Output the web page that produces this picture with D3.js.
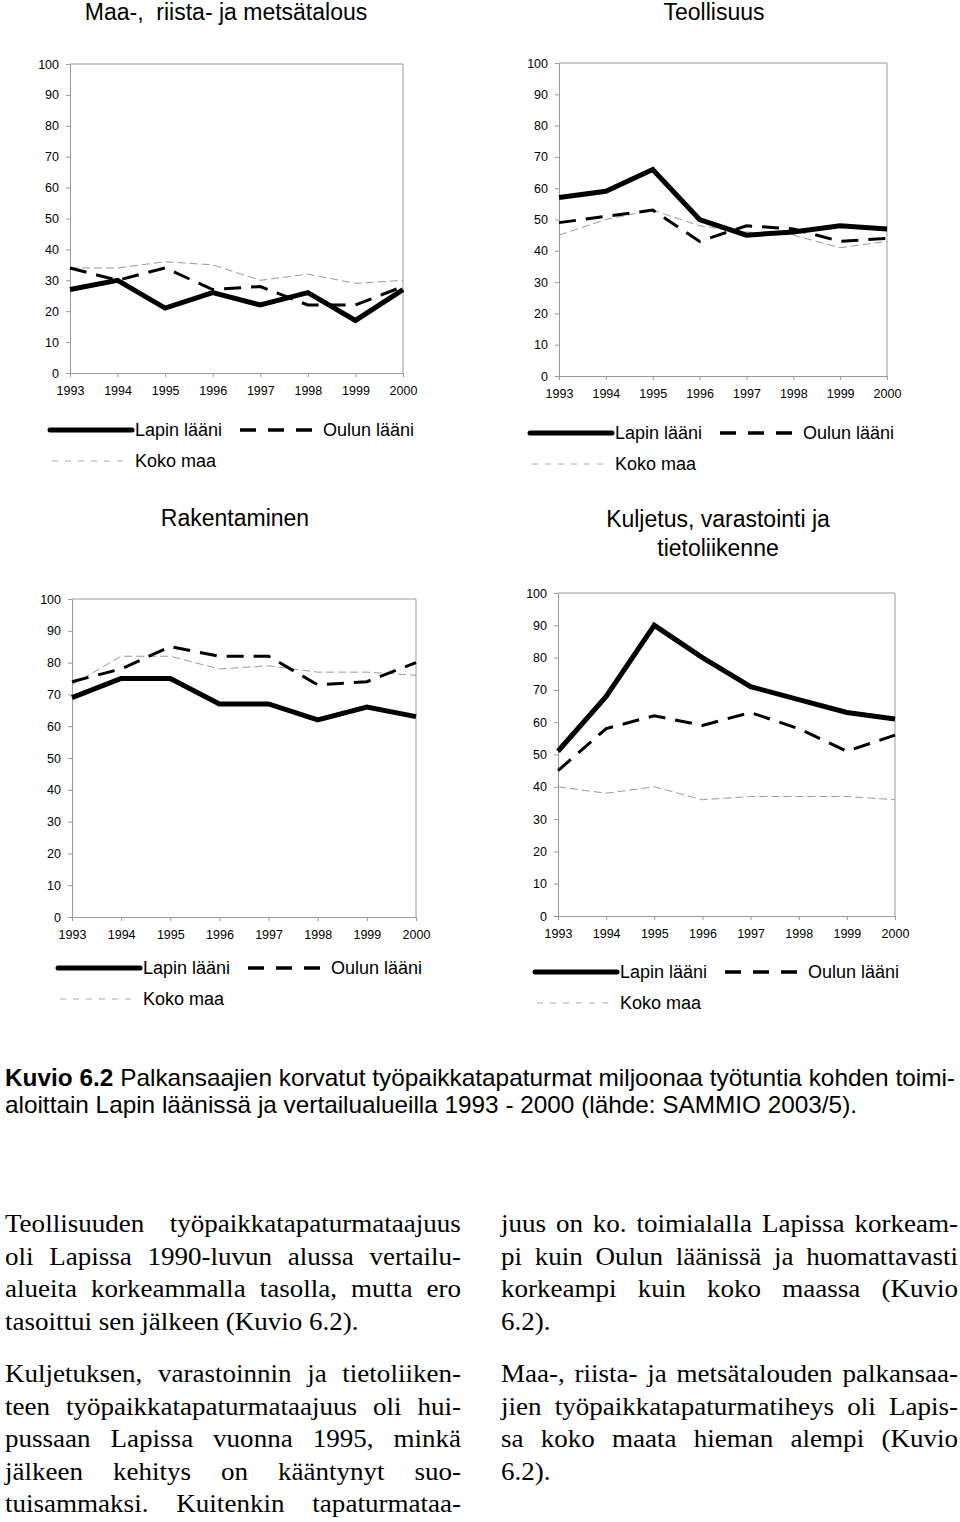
<!DOCTYPE html>
<html><head><meta charset="utf-8">
<script src="https://cdn.jsdelivr.net/npm/d3@7"></script>
<style>body{margin:0;background:#fff} svg{display:block}</style>
</head><body><svg id="c" width="960" height="1522"></svg>
<script>
// ---- data ----
const years = [1993, 1994, 1995, 1996, 1997, 1998, 1999, 2000];
const yTicks = [0, 10, 20, 30, 40, 50, 60, 70, 80, 90, 100];
const seriesNames = ["Lapin lääni", "Oulun lääni", "Koko maa"];

const maaLapin = [27, 30, 21, 26, 22, 26, 17, 27];
const maaOulu  = [34, 30, 34, 27, 28, 22, 22, 28];
const maaKoko  = [34, 34, 36, 35, 30, 32, 29, 30];

const teolLapin = [57, 59, 66, 50, 45, 46, 48, 47];
const teolOulu  = [49, 51, 53, 43, 48, 47, 43, 44];
const teolKoko  = [45, 50, 53, 48, 46, 45, 41, 43];

const rakLapin = [69, 75, 75, 67, 67, 62, 66, 63];
const rakOulu  = [74, 78, 85, 82, 82, 73, 74, 80];
const rakKoko  = [73, 82, 82, 78, 79, 77, 77, 76];

const kulLapin = [51, 68, 90, 80, 71, 67, 63, 61];
const kulOulu  = [45, 58, 62, 59, 63, 58, 51, 56];
const kulKoko  = [40, 38, 40, 36, 37, 37, 37, 36];

const panelTitles = [
  ["Maa-,  riista- ja metsätalous"],
  ["Teollisuus"],
  ["Rakentaminen"],
  ["Kuljetus, varastointi ja", "tietoliikenne"]
];
const captionBold = "Kuvio 6.2";
const captionLine1 = " Palkansaajien korvatut työpaikkatapaturmat miljoonaa työtuntia kohden toimi-";
const captionLine2 = "aloittain Lapin läänissä ja vertailualueilla 1993 - 2000 (lähde: SAMMIO 2003/5).";

const leftParas = [
  ["Teollisuuden työpaikkatapaturmataajuus",
   "oli Lapissa 1990-luvun alussa vertailu-",
   "alueita korkeammalla tasolla, mutta ero",
   "tasoittui sen jälkeen (Kuvio 6.2)."],
  ["Kuljetuksen, varastoinnin ja tietoliiken-",
   "teen työpaikkatapaturmataajuus oli hui-",
   "pussaan Lapissa vuonna 1995, minkä",
   "jälkeen kehitys on kääntynyt suo-",
   "tuisammaksi. Kuitenkin tapaturmataa-"]
];
const leftParaLastJustified = [false, true];
const rightParas = [
  ["juus on ko. toimialalla Lapissa korkeam-",
   "pi kuin Oulun läänissä ja huomattavasti",
   "korkeampi kuin koko maassa (Kuvio",
   "6.2)."],
  ["Maa-, riista- ja metsätalouden palkansaa-",
   "jien työpaikkatapaturmatiheys oli Lapis-",
   "sa koko maata hieman alempi (Kuvio",
   "6.2)."]
];

// ---- layout ----
const panels = [
  {series: [maaLapin, maaOulu, maaKoko], x0: 70, x1: 403, y0: 64, y1: 373, tx: 226, ty: 20, lx: 50, ly: 430},
  {series: [teolLapin, teolOulu, teolKoko], x0: 559, x1: 887, y0: 63, y1: 376, tx: 714, ty: 20, lx: 530, ly: 433},
  {series: [rakLapin, rakOulu, rakKoko], x0: 72, x1: 416, y0: 599, y1: 917, tx: 235, ty: 526, lx: 58, ly: 968},
  {series: [kulLapin, kulOulu, kulKoko], x0: 558, x1: 895, y0: 593, y1: 916, tx: 718, ty: 527, lx: 535, ly: 972}
];
const styles = [
  {stroke: "#000", width: 5, dash: null},
  {stroke: "#000", width: 3, dash: "17,10"},
  {stroke: "#9a9a9a", width: 1, dash: "8,4"}
];
const legendStyles = [
  {stroke: "#000", width: 5, dash: null},
  {stroke: "#000", width: 3.5, dash: "16,12"},
  {stroke: "#aaa", width: 1, dash: "6,7"}
];
const SANS = "'Liberation Sans', Arial, sans-serif";
const SERIF = "'Liberation Serif', 'Times New Roman', serif";
const axisColor = "#9a9a9a";

const svg = d3.select("#c");

panels.forEach((p, pi) => {
  const g = svg.append("g");
  const x = d3.scalePoint().domain(years).range([p.x0, p.x1]);
  const y = d3.scaleLinear().domain([0, 100]).range([p.y1, p.y0]);

  g.append("path")
    .attr("d", `M${p.x0},${p.y0}H${p.x1}V${p.y1}`)
    .attr("fill", "none").attr("stroke", axisColor).attr("stroke-width", 1);

  const ya = g.append("g").attr("transform", `translate(${p.x0},0)`)
    .call(d3.axisLeft(y).tickValues(yTicks).tickSize(4).tickPadding(7).tickSizeOuter(0));
  const xa = g.append("g").attr("transform", `translate(0,${p.y1})`)
    .call(d3.axisBottom(x).tickSize(4).tickPadding(9).tickSizeOuter(0).tickFormat(d3.format("d")));
  [ya, xa].forEach(a => {
    a.select(".domain").attr("stroke", axisColor);
    a.selectAll(".tick line").attr("stroke", axisColor);
    a.selectAll(".tick text").attr("fill", "#000")
      .style("font-family", SANS).style("font-size", "12.5px");
  });

  const line = d3.line().x((d, i) => x(years[i])).y(d => y(d));
  [2, 1, 0].forEach(si => {
    const st = styles[si];
    g.append("path").datum(p.series[si])
      .attr("d", line).attr("fill", "none")
      .attr("stroke", st.stroke).attr("stroke-width", st.width)
      .attr("stroke-dasharray", st.dash)
      .attr("stroke-linejoin", "miter").attr("stroke-linecap", "butt");
  });

  panelTitles[pi].forEach((t, ti) => {
    g.append("text").attr("x", p.tx).attr("y", p.ty + ti * 29)
      .attr("text-anchor", "middle")
      .style("font-family", SANS).style("font-size", "23px").style("white-space", "pre")
      .text(t);
  });

  const lg = g.append("g").attr("transform", `translate(${p.lx},${p.ly})`);
  const items = [
    {si: 0, x: 0, y: 0, tx: 85},
    {si: 1, x: 190, y: 0, tx: 273},
    {si: 2, x: 2, y: 31, tx: 85}
  ];
  items.forEach(it => {
    const st = legendStyles[it.si];
    const len = it.si === 1 ? 72 : (it.si === 2 ? 78 : 82);
    lg.append("line").attr("x1", it.x).attr("x2", it.x + len)
      .attr("y1", it.y).attr("y2", it.y)
      .attr("stroke", st.stroke).attr("stroke-width", st.width)
      .attr("stroke-dasharray", st.dash).attr("stroke-linecap", it.si === 0 ? "round" : "butt");
    lg.append("text").attr("x", it.tx).attr("y", it.y).attr("dy", "0.36em")
      .style("font-family", SANS).style("font-size", "18px")
      .text(seriesNames[it.si]);
  });
});

// caption
const cap1 = svg.append("text").attr("x", 5).attr("y", 1086)
  .attr("textLength", 950).attr("lengthAdjust", "spacingAndGlyphs")
  .style("font-family", SANS).style("font-size", "24px").style("white-space", "pre");
cap1.append("tspan").style("font-weight", "bold").text(captionBold);
cap1.append("tspan").text(captionLine1);
svg.append("text").attr("x", 5).attr("y", 1113)
  .attr("textLength", 852).attr("lengthAdjust", "spacingAndGlyphs")
  .style("font-family", SANS).style("font-size", "24px")
  .text(captionLine2);

// body text (justified, word by word)
const SX = 1.04;
function drawLine(g, text, x0, width, yb, justify) {
  const words = text.split(" ");
  const nodes = words.map(w => g.append("text").attr("y", 0)
    .style("font-family", SERIF).style("font-size", "26px").text(w));
  const widths = nodes.map(n => n.node().getComputedTextLength() * SX);
  const total = d3.sum(widths);
  let gap = 6.5;
  if (justify && words.length > 1) gap = (width - total) / (words.length - 1);
  let cx = x0;
  nodes.forEach((n, i) => {
    n.attr("transform", `translate(${cx},${yb}) scale(${SX},1)`);
    cx += widths[i] + gap;
  });
}
function drawColumn(paras, x0, width, lastJust) {
  const g = svg.append("g");
  const starts = [1232, 1382];
  paras.forEach((lines, pi) => {
    lines.forEach((ln, li) => {
      const isLast = li === lines.length - 1;
      const just = !isLast || (lastJust && lastJust[pi]);
      drawLine(g, ln, x0, width, starts[pi] + li * 32.6, just);
    });
  });
}
drawColumn(leftParas, 5, 456, leftParaLastJustified);
drawColumn(rightParas, 501, 457, [false, false]);
</script></body></html>
